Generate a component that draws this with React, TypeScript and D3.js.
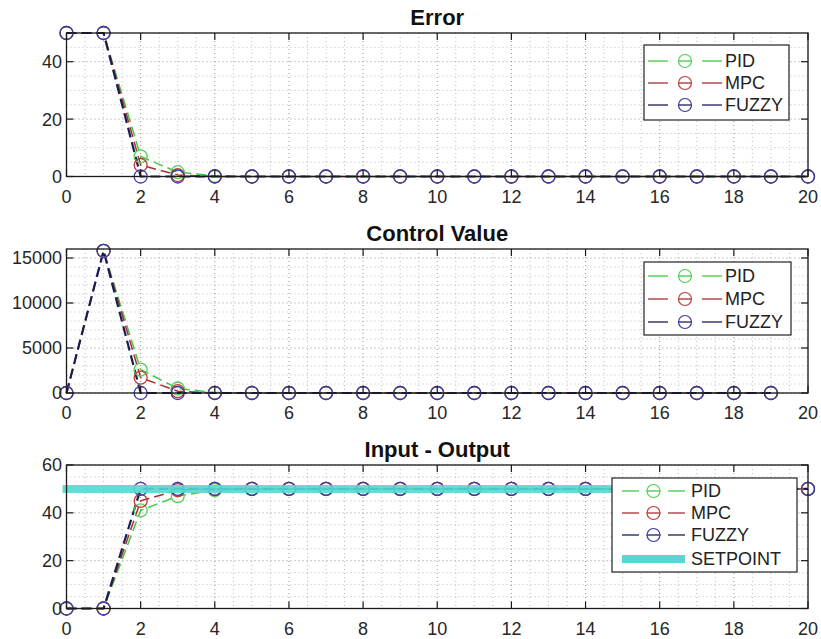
import React from "react";
import * as d3 from "d3";

// sample index (x axis)
const steps = [0, 1, 2, 3, 4, 5, 6, 7, 8, 9, 10, 11, 12, 13, 14, 15, 16, 17, 18, 19, 20];

// Error
const errorPID = [50, 50, 7, 1.5, 0.2, 0, 0, 0, 0, 0, 0, 0, 0, 0, 0, 0, 0, 0, 0, 0, 0];
const errorMPC = [50, 50, 4, 0.5, 0, 0, 0, 0, 0, 0, 0, 0, 0, 0, 0, 0, 0, 0, 0, 0, 0];
const errorFUZZY = [50, 50, 0, 0, 0, 0, 0, 0, 0, 0, 0, 0, 0, 0, 0, 0, 0, 0, 0, 0, 0];

// Control value (20 samples)
const controlPID = [0, 15800, 2600, 500, 50, 0, 0, 0, 0, 0, 0, 0, 0, 0, 0, 0, 0, 0, 0, 0];
const controlMPC = [0, 15800, 1700, 200, 0, 0, 0, 0, 0, 0, 0, 0, 0, 0, 0, 0, 0, 0, 0, 0];
const controlFUZZY = [0, 15800, 0, 0, 0, 0, 0, 0, 0, 0, 0, 0, 0, 0, 0, 0, 0, 0, 0, 0];

// Input - Output
const outPID = [0, 0, 41, 47, 49.5, 50, 50, 50, 50, 50, 50, 50, 50, 50, 50, 50, 50, 50, 50, 50, 50];
const outMPC = [0, 0, 45, 49.5, 50, 50, 50, 50, 50, 50, 50, 50, 50, 50, 50, 50, 50, 50, 50, 50, 50];
const outFUZZY = [0, 0, 50, 50, 50, 50, 50, 50, 50, 50, 50, 50, 50, 50, 50, 50, 50, 50, 50, 50, 50];
const setpoint = [50, 50, 50, 50, 50, 50, 50, 50, 50, 50, 50, 50, 50, 50, 50, 50, 50, 50, 50, 50];

const xTicks = [0, 2, 4, 6, 8, 10, 12, 14, 16, 18, 20];
const yTicksError = [0, 20, 40];
const yTicksControl = [0, 5000, 10000, 15000];
const yTicksOutput = [0, 20, 40, 60];

const FONT = "'Liberation Sans', Arial, Helvetica, sans-serif";
const AX_LEFT = 66.5;
const AX_RIGHT = 808;

const COLORS = {
  PID: { line: "#45c845", marker: "#55d055" },
  MPC: { line: "#a83030", marker: "#c03a3a" },
  FUZZY: { line: "#1c1c55", marker: "#3a3aa8" },
};

type Series = { name: "PID" | "MPC" | "FUZZY"; values: number[] };

type Legend = {
  x: number; y: number; w: number; h: number;
  rows: number[]; s0: number; s1: number; tx: number;
};

type Panel = {
  title: string;
  top: number;
  bottom: number;
  yMax: number;
  yTicks: number[];
  yMinor: number;
  series: Series[];
  setpoint?: number[];
  legend: Legend;
};

const panels: Panel[] = [
  {
    title: "Error",
    top: 33,
    bottom: 176.5,
    yMax: 50,
    yTicks: yTicksError,
    yMinor: 5,
    series: [
      { name: "PID", values: errorPID },
      { name: "MPC", values: errorMPC },
      { name: "FUZZY", values: errorFUZZY },
    ],
    legend: { x: 644, y: 45, w: 145, h: 75, rows: [16, 38, 60], s0: 648, s1: 722, tx: 725 },
  },
  {
    title: "Control Value",
    top: 249,
    bottom: 393,
    yMax: 16000,
    yTicks: yTicksControl,
    yMinor: 1000,
    series: [
      { name: "PID", values: controlPID },
      { name: "MPC", values: controlMPC },
      { name: "FUZZY", values: controlFUZZY },
    ],
    legend: { x: 644, y: 262, w: 147, h: 73, rows: [14, 37, 60], s0: 648, s1: 722, tx: 725 },
  },
  {
    title: "Input - Output",
    top: 465,
    bottom: 608.5,
    yMax: 60,
    yTicks: yTicksOutput,
    yMinor: 5,
    series: [
      { name: "PID", values: outPID },
      { name: "MPC", values: outMPC },
      { name: "FUZZY", values: outFUZZY },
    ],
    setpoint,
    legend: { x: 612, y: 478, w: 185, h: 94, rows: [13, 35, 57, 81], s0: 622, s1: 685, tx: 691 },
  },
];

function LegendBox({ lg, withSetpoint }: { lg: Legend; withSetpoint: boolean }) {
  const names: Series["name"][] = ["PID", "MPC", "FUZZY"];
  const mid = (lg.s0 + lg.s1) / 2;
  const seg = (lg.s1 - lg.s0) * 0.27;
  return (
    <g>
      <rect x={lg.x} y={lg.y} width={lg.w} height={lg.h} fill="#fff" stroke="#222" strokeWidth={1.2} />
      {names.map((n, i) => {
        const cy = lg.y + lg.rows[i];
        const c = COLORS[n];
        return (
          <g key={n}>
            <line x1={lg.s0} x2={lg.s0 + seg} y1={cy} y2={cy} stroke={c.line} strokeWidth={1.3} />
            <line x1={mid - 7} x2={mid + 7} y1={cy} y2={cy} stroke={c.line} strokeWidth={1.3} />
            <line x1={lg.s1 - seg} x2={lg.s1} y1={cy} y2={cy} stroke={c.line} strokeWidth={1.3} />
            <circle cx={mid} cy={cy} r={6.5} fill="none" stroke={c.marker} strokeWidth={1.2} />
            <text x={lg.tx} y={cy} dy="0.36em" fontSize={18} fill="#222" textLength={undefined}>{n}</text>
          </g>
        );
      })}
      {withSetpoint && (
        <g>
          <line x1={lg.s0} x2={lg.s1} y1={lg.y + lg.rows[3]} y2={lg.y + lg.rows[3]} stroke="#5ad6d2" strokeWidth={8} />
          <text x={lg.tx} y={lg.y + lg.rows[3]} dy="0.36em" fontSize={18} fill="#222">SETPOINT</text>
        </g>
      )}
    </g>
  );
}

function PanelView({ p }: { p: Panel }) {
  const x = d3.scaleLinear().domain([0, 20]).range([AX_LEFT, AX_RIGHT]);
  const y = d3.scaleLinear().domain([0, p.yMax]).range([p.bottom, p.top]);
  const line = d3
    .line<number>()
    .x((_d, i) => x(steps[i]))
    .y((d) => y(d));

  const xGrid = d3.range(0, 20.001, 0.5);
  const yGrid = d3.range(0, p.yMax + 0.001, p.yMinor);
  const tick = 7;

  return (
    <g>
      {/* dotted grid */}
      <g stroke="#8f8f8f" strokeWidth={1} strokeDasharray="1,3">
        {xGrid.map((v) => (
          <line key={"gx" + v} x1={x(v)} x2={x(v)} y1={p.top} y2={p.bottom} opacity={v % 2 === 0 ? 0.95 : 0.6} />
        ))}
        {yGrid.map((v) => (
          <line key={"gy" + v} x1={AX_LEFT} x2={AX_RIGHT} y1={y(v)} y2={y(v)} opacity={p.yTicks.includes(v) ? 0.95 : 0.6} />
        ))}
      </g>

      {/* series lines */}
      {p.series.map((s) => (
        <path
          key={"l" + s.name}
          d={line(s.values) || ""}
          fill="none"
          stroke={COLORS[s.name].line}
          strokeWidth={s.name === "FUZZY" ? 2.2 : 1.5}
          strokeDasharray="10,5"
        />
      ))}
      {/* markers */}
      {p.series.map((s) => (
        <g key={"m" + s.name}>
          {s.values.map((v, i) => (
            <circle
              key={i}
              cx={x(steps[i])}
              cy={y(v)}
              r={6.5}
              fill="none"
              stroke={COLORS[s.name].marker}
              strokeWidth={1.3}
            />
          ))}
        </g>
      ))}

      {p.setpoint && (
        <path
          d={line(p.setpoint) || ""}
          fill="none"
          stroke="#5ad6d2"
          strokeOpacity={0.9}
          strokeWidth={8}
          strokeLinecap="square"
        />
      )}

      {/* axes box + ticks */}
      <rect x={AX_LEFT} y={p.top} width={AX_RIGHT - AX_LEFT} height={p.bottom - p.top} fill="none" stroke="#1a1a1a" strokeWidth={1.3} />
      <g stroke="#1a1a1a" strokeWidth={1.2}>
        {xTicks.map((v) => (
          <g key={"tx" + v}>
            <line x1={x(v)} x2={x(v)} y1={p.bottom} y2={p.bottom - tick} />
            <line x1={x(v)} x2={x(v)} y1={p.top} y2={p.top + tick} />
          </g>
        ))}
        {p.yTicks.map((v) => (
          <g key={"ty" + v}>
            <line x1={AX_LEFT} x2={AX_LEFT + tick} y1={y(v)} y2={y(v)} />
            <line x1={AX_RIGHT} x2={AX_RIGHT - tick} y1={y(v)} y2={y(v)} />
          </g>
        ))}
      </g>
      <g fontSize={18} fill="#262626">
        {xTicks.map((v) => (
          <text key={"lx" + v} x={x(v)} y={p.bottom + 26} textAnchor="middle">{v}</text>
        ))}
        {p.yTicks.map((v) => (
          <text key={"ly" + v} x={62} y={y(v)} dy="0.36em" textAnchor="end">{v}</text>
        ))}
      </g>
      <text x={(AX_LEFT + AX_RIGHT) / 2} y={p.top - 8} textAnchor="middle" fontSize={22} fontWeight="bold" fill="#111">
        {p.title}
      </text>

      <LegendBox lg={p.legend} withSetpoint={!!p.setpoint} />
    </g>
  );
}

export default function App() {
  return (
    <svg
      width={821}
      height={639}
      viewBox="0 0 821 639"
      style={{ position: "absolute", left: 0, top: 0, background: "#fff", fontFamily: FONT }}
    >
      <rect width={821} height={639} fill="#fff" />
      {panels.map((p) => (
        <PanelView key={p.title} p={p} />
      ))}
    </svg>
  );
}
